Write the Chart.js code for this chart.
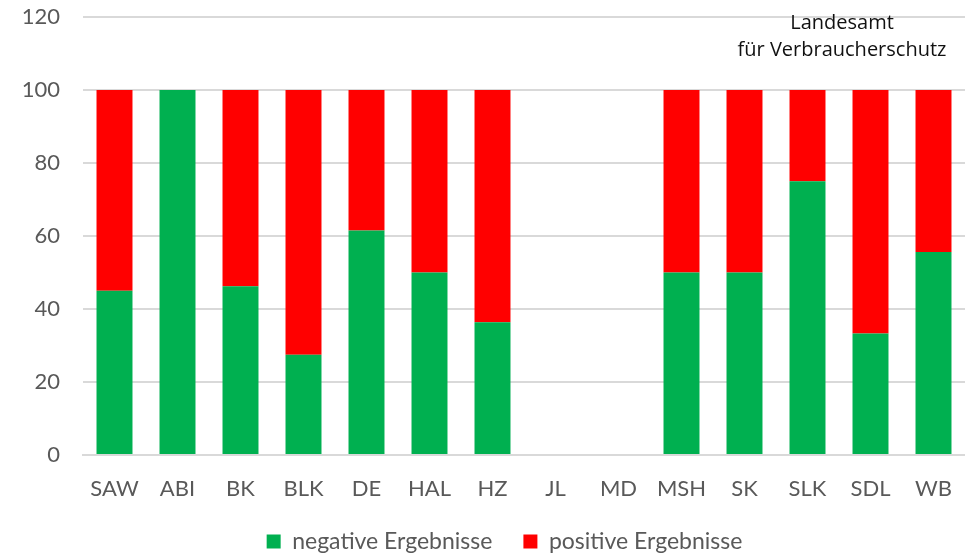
<!DOCTYPE html>
<html>
<head>
<meta charset="utf-8">
<script src="https://cdn.jsdelivr.net/npm/chart.js@4"></script>
<style>
  html, body { margin: 0; padding: 0; background: #fff; }
  #wrap { position: relative; width: 965px; height: 555px; }
</style>
</head>
<body>
<div id="wrap"><canvas id="c" width="965" height="555"></canvas></div>
<script>
const categories = ["SAW","ABI","BK","BLK","DE","HAL","HZ","JL","MD","MSH","SK","SLK","SDL","WB"];
const negativeValues = [45, 100, 46.2, 27.5, 61.5, 50, 36.4, 0, 0, 50, 50, 75, 33.3, 55.6];
const positiveValues = [55, 0, 53.8, 72.5, 38.5, 50, 63.6, 0, 0, 50, 50, 25, 66.7, 44.4];
const seriesNames = ["negative Ergebnisse", "positive Ergebnisse"];
const yTicks = [0, 20, 40, 60, 80, 100, 120];
const watermarkLines = ["Landesamt", "für Verbraucherschutz"];

const FONT = "Lato, 'Open Sans', sans-serif";
const TEXT = "#595959";
const GRID = "#d9d9d9";

const watermark = {
  id: "watermark",
  afterDraw(chart) {
    const ctx = chart.ctx;
    ctx.save();
    ctx.fillStyle = "#111";
    ctx.font = "20px 'Open Sans', sans-serif";
    ctx.textAlign = "center";
    ctx.textBaseline = "middle";
    ctx.fillText(watermarkLines[0], 842, 23);
    ctx.fillText(watermarkLines[1], 842, 50);
    ctx.restore();
  }
};

new Chart(document.getElementById("c"), {
  type: "bar",
  data: {
    labels: categories,
    datasets: [
      { label: seriesNames[0], data: negativeValues, backgroundColor: "#00B050", borderWidth: 0 },
      { label: seriesNames[1], data: positiveValues, backgroundColor: "#FF0000", borderWidth: 0 }
    ]
  },
  options: {
    responsive: false,
    animation: false,
    datasets: { bar: { categoryPercentage: 1, barPercentage: 0.571 } },
    layout: { padding: { top: 17, right: -44, left: 0, bottom: -8 } },
    plugins: {
      tooltip: { enabled: false },
      legend: {
        position: "bottom",
        labels: {
          color: TEXT,
          font: { family: FONT, size: 23 },
          boxWidth: 14,
          boxHeight: 14,
          padding: 31
        }
      }
    },
    scales: {
      x: {
        stacked: true,
        grid: { display: false, drawTicks: false },
        border: { display: true, color: GRID, width: 2 },
        afterFit(scale) { scale.height = 44; scale.paddingLeft = 0; scale.paddingRight = 0; },
        ticks: { color: TEXT, font: { family: FONT, size: 22 }, padding: 21, maxRotation: 0, autoSkip: false }
      },
      y: {
        stacked: true,
        min: 0,
        max: 120,
        afterBuildTicks(scale) { scale.ticks = yTicks.map(v => ({ value: v })); },
        afterFit(scale) { scale.width = 83; scale.paddingTop = 0; scale.paddingBottom = 0; },
        grid: { color: GRID, lineWidth: 2, drawTicks: false },
        border: { display: false },
        ticks: { color: TEXT, font: { family: FONT, size: 22 }, padding: 23 }
      },
      spacer: {
        type: "linear",
        position: "right",
        grid: { display: false, drawTicks: false },
        border: { display: false },
        ticks: { display: false },
        afterFit(scale) { scale.width = 42; scale.paddingTop = 0; scale.paddingBottom = 0; }
      }
    }
  },
  plugins: [watermark]
});
</script>
</body>
</html>
